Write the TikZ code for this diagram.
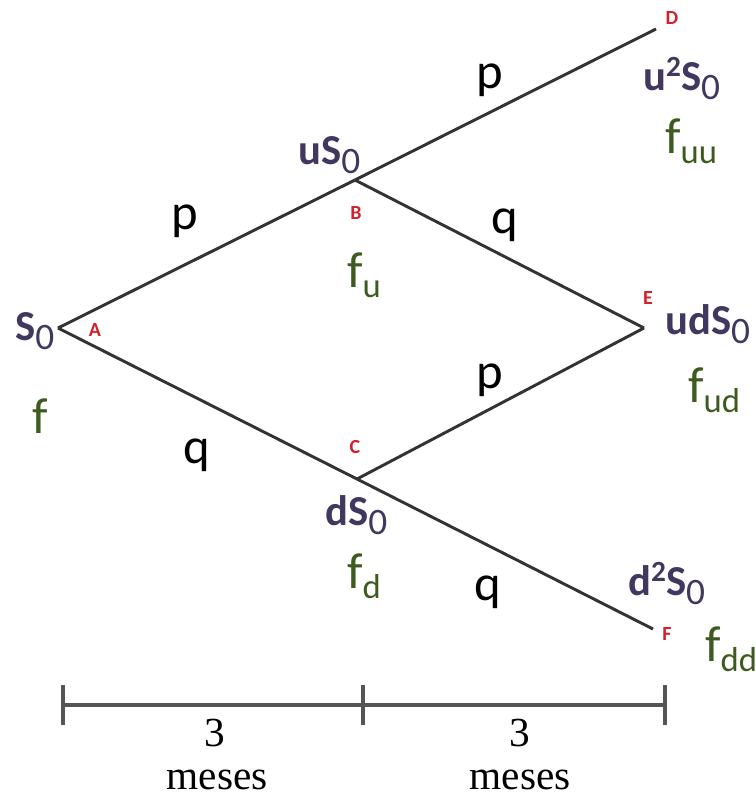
\documentclass[tikz,border=0pt]{standalone}
\usepackage{fontspec}
\setmainfont{Carlito}
\newfontfamily\timesfont{Liberation Serif}
\definecolor{spurple}{HTML}{42375F}
\definecolor{fgreen}{HTML}{3D5B1F}
\definecolor{lred}{HTML}{D3202A}
\definecolor{edgegray}{HTML}{333333}
\definecolor{axisgray}{HTML}{555555}
% sub/superscripts for price labels (bold) and value labels
\newcommand\pzero{\raisebox{-7pt}{\fontsize{28}{28}\selectfont\mdseries 0}}
\newcommand\ptwo{\raisebox{10pt}{\fontsize{22}{22}\selectfont 2}}
\newcommand\fsub[1]{\raisebox{-7.5pt}{\fontsize{26}{26}\selectfont #1}}
\tikzset{
  edge/.style={draw=edgegray, line width=2.2pt},
  axis/.style={draw=axisgray, line width=3pt},
  spr/.style={text=spurple, font=\fontsize{32}{34}\selectfont\bfseries, inner sep=0pt, anchor=base west},
  fval/.style={text=fgreen, font=\fontsize{38}{40}\selectfont, inner sep=0pt, anchor=base west},
  lett/.style={text=lred, font=\fontsize{15}{16}\selectfont\bfseries, inner sep=0pt},
  prob/.style={text=black, font=\fontsize{38}{40}\selectfont, inner sep=0pt},
  tl/.style={text=black, font=\timesfont\fontsize{31}{33}\selectfont, inner sep=0pt}
}
\begin{document}
\begin{tikzpicture}[x=0.75pt,y=-0.75pt]
\useasboundingbox (0,0) rectangle (756,801);
% tree vertices
\coordinate (A) at (58,328);
\coordinate (B) at (355,180);
\coordinate (C) at (357,479);
\coordinate (D) at (656,29);
\coordinate (E) at (644,328);
\coordinate (F) at (653,629);
\draw[edge] (A) -- (B);
\draw[edge] (A) -- (C);
\draw[edge] (B) -- (D);
\draw[edge] (B) -- (E);
\draw[edge] (C) -- (E);
\draw[edge] (C) -- (F);
% letters
\node[lett] (lA) at (95,330) {A};
\node[lett] (lB) at (356,213) {B};
\node[lett] (lC) at (355,447) {C};
\node[lett] (lD) at (672,18) {D};
\node[lett] (lE) at (648,298) {E};
\node[lett] (lF) at (667,634) {F};
% stock prices
\node[spr] (sA) at (15,340) {S\pzero};
\node[spr] (sB) at (298,164) {uS\pzero};
\node[spr] (sC) at (325,525) {dS\pzero};
\node[spr] (sD) at (643,90) {u\ptwo S\pzero};
\node[spr] (sE) at (665,334) {udS\pzero};
\node[spr] (sF) at (628,595) {d\ptwo S\pzero};
% option values
\node[fval] (fA) at (32,433) {f};
\node[fval] (fB) at (347,287) {f\fsub{u}};
\node[fval] (fC) at (347,588) {f\fsub{d}};
\node[fval] (fD) at (665,153) {f\fsub{uu}};
\node[fval] (fE) at (688,402) {f\fsub{ud}};
\node[fval] (fF) at (705,661) {f\fsub{dd}};
% probabilities
\node[prob] (p1) at (185,221) {p};
\node[prob] (q1) at (197,455) {q};
\node[prob] (p2) at (490,80) {p};
\node[prob] (q2) at (505,225) {q};
\node[prob] (p3) at (490,380) {p};
\node[prob] (q3) at (488,592) {q};
% time axis
\coordinate (T0) at (63,705);
\coordinate (T1) at (363,705);
\coordinate (T2) at (665,705);
\coordinate (T0a) at (63,685);
\coordinate (T0b) at (63,725);
\coordinate (T1a) at (363,685);
\coordinate (T1b) at (363,725);
\coordinate (T2a) at (665,685);
\coordinate (T2b) at (665,725);
\draw[axis] (T0) -- (T2);
\draw[axis] (T0a) -- (T0b);
\draw[axis] (T1a) -- (T1b);
\draw[axis] (T2a) -- (T2b);
\node[tl] (n1) at (215,733) {3};
\node[tl] (m1) at (217,780) {meses};
\node[tl] (n2) at (520,733) {3};
\node[tl] (m2) at (520,780) {meses};
\end{tikzpicture}
\end{document}
